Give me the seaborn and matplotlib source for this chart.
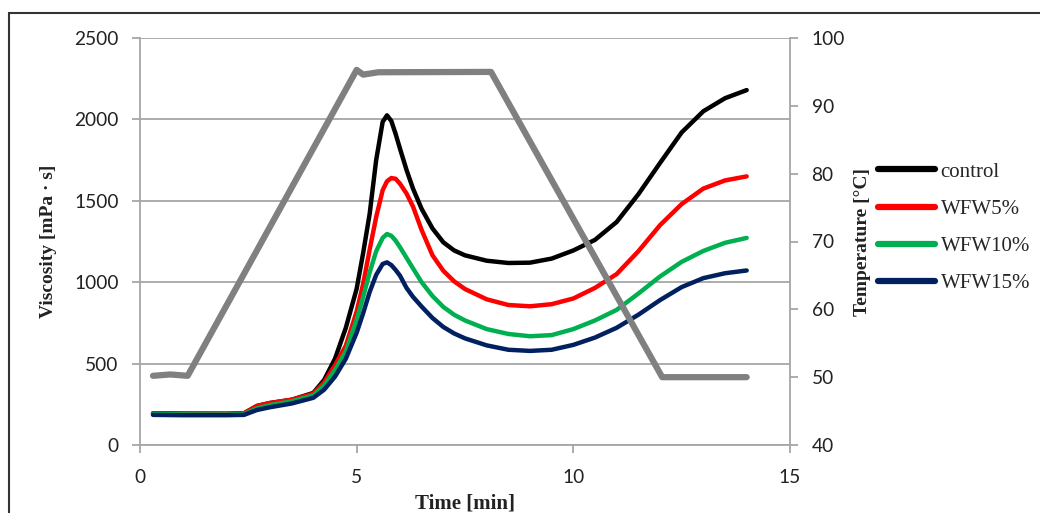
import numpy as np
import pandas as pd
import matplotlib
matplotlib.use("Agg")
import matplotlib.pyplot as plt
import seaborn as sns
from matplotlib.patches import Rectangle

# ---- data ----
time_min = [0.3, 1.0, 2.0, 2.4, 2.7, 3.0, 3.5, 4.0, 4.25, 4.5, 4.75, 5.0, 5.15, 5.3,
            5.45, 5.6, 5.7, 5.8, 5.9, 6.0, 6.15, 6.3, 6.5, 6.75, 7.0, 7.25, 7.5,
            8.0, 8.5, 9.0, 9.5, 10.0, 10.5, 11.0, 11.5, 12.0, 12.5, 13.0, 13.5, 14.0]
control = [195, 193, 192, 195, 240, 258, 278, 320, 400, 530, 720, 960, 1180, 1420,
           1750, 1985, 2025, 1990, 1910, 1820, 1690, 1575, 1450, 1330, 1245, 1195, 1165,
           1132, 1118, 1120, 1145, 1195, 1260, 1370, 1540, 1732, 1920, 2050, 2130, 2180]
wfw5 = [195, 193, 192, 195, 240, 258, 278, 315, 385, 490, 610, 820, 990, 1200,
        1400, 1565, 1620, 1640, 1635, 1605, 1545, 1465, 1320, 1165, 1070, 1005, 958,
        895, 860, 852, 865, 900, 965, 1050, 1190, 1350, 1480, 1575, 1625, 1650]
wfw10 = [190, 188, 187, 190, 225, 245, 268, 305, 365, 460, 575, 770, 910, 1060,
         1190, 1272, 1296, 1285, 1255, 1215, 1150, 1085, 1000, 915, 848, 800, 765,
         712, 682, 668, 675, 712, 765, 830, 930, 1035, 1125, 1192, 1242, 1272]
wfw15 = [185, 183, 183, 185, 215, 232, 255, 290, 340, 420, 530, 690, 810, 940,
         1045, 1112, 1122, 1105, 1075, 1040, 965, 910, 850, 780, 725, 685, 655,
         612, 585, 578, 585, 615, 660, 720, 800, 890, 970, 1025, 1055, 1072]
series_names = ["control", "WFW5%", "WFW10%", "WFW15%"]
series_colors = ["#000000", "#ff0000", "#00b050", "#002060"]

temp_time = [0.3, 0.7, 1.1, 5.0, 5.15, 5.5, 8.1, 12.05, 14.0]
temp_vals = [50.2, 50.4, 50.2, 95.3, 94.6, 94.95, 95.0, 50.0, 50.0]

vis_ticks = [0, 500, 1000, 1500, 2000, 2500]
temp_ticks = [40, 50, 60, 70, 80, 90, 100]
x_ticks = [0, 5, 10, 15]

# ---- plot ----
sns.set_style("white")
plt.rcParams["font.family"] = ["Lato", "DejaVu Sans"]

fig = plt.figure(figsize=(10.4, 5.13), dpi=100)
ax = fig.add_axes([140/1040, 1-445/513, 650/1040, 407/513])

grid_c = "#a6a6a6"
df = pd.DataFrame({"t": time_min, "control": control, "WFW5%": wfw5,
                   "WFW10%": wfw10, "WFW15%": wfw15})
for name, col in zip(series_names, series_colors):
    sns.lineplot(data=df, x="t", y=name, ax=ax, color=col, lw=3.2,
                 label=name, solid_capstyle="round", solid_joinstyle="round")

ax.set_xlim(0, 15)
ax.set_ylim(0, 2500)
ax.set_xticks(x_ticks)
ax.set_yticks(vis_ticks)
ax.yaxis.grid(True, color=grid_c, lw=1.3)
ax.xaxis.grid(False)
for s in ["left", "bottom"]:
    ax.spines[s].set_color(grid_c)
    ax.spines[s].set_linewidth(1.3)
ax.spines["top"].set_visible(False)
ax.spines["right"].set_visible(False)
ax.tick_params(axis="both", direction="out", length=5.5, width=1.3, color=grid_c,
               labelsize=13.8, labelcolor="#222222", bottom=True, left=True)
ax.tick_params(axis="y", pad=10)
ax.tick_params(axis="x", pad=12)
ax.set_xlabel("Time [min]", family="Liberation Serif", fontweight="bold",
              fontsize=15, color="#222222")
ax.xaxis.set_label_coords(0.5, -0.12)
ax.set_ylabel("Viscosity [mPa · s]", family="Liberation Serif", fontweight="bold",
              fontsize=14, color="#222222")
ax.yaxis.set_label_coords(-0.128, 0.5)
handles, labels = ax.get_legend_handles_labels()
ax.get_legend().remove()

ax2 = ax.twinx()
sns.lineplot(x=temp_time, y=temp_vals, ax=ax2, color="#808080", lw=4.5,
             solid_capstyle="round", solid_joinstyle="round")
ax2.set_ylim(40, 100)
ax2.set_yticks(temp_ticks)
for s in ["left", "bottom", "top"]:
    ax2.spines[s].set_visible(False)
ax2.spines["right"].set_color(grid_c)
ax2.spines["right"].set_linewidth(1.3)
ax2.tick_params(axis="y", direction="out", length=5.5, width=1.3, color=grid_c,
                labelsize=13.8, labelcolor="#222222", right=True, pad=10)
ax2.set_ylabel("Temperature [°C]", family="Liberation Serif", fontweight="bold",
               fontsize=14, color="#222222")
ax2.yaxis.set_label_coords(1.098, 0.5)

leg = fig.legend(handles, labels, loc="upper left",
                 bbox_to_anchor=(878/1040, 1-162/513), frameon=False,
                 prop={"family": "Liberation Serif", "size": 15},
                 handlelength=2.75, handletextpad=0.25, labelspacing=0.85,
                 borderaxespad=0, borderpad=0)
for h in leg.get_lines():
    h.set_linewidth(4.5)

fig.patches.append(Rectangle((9/1040, -0.1), 1.2, 1-13/513+0.1,
                             transform=fig.transFigure, fill=False,
                             edgecolor="#333333", lw=1.5))

fig.savefig("out.png", dpi=100)
